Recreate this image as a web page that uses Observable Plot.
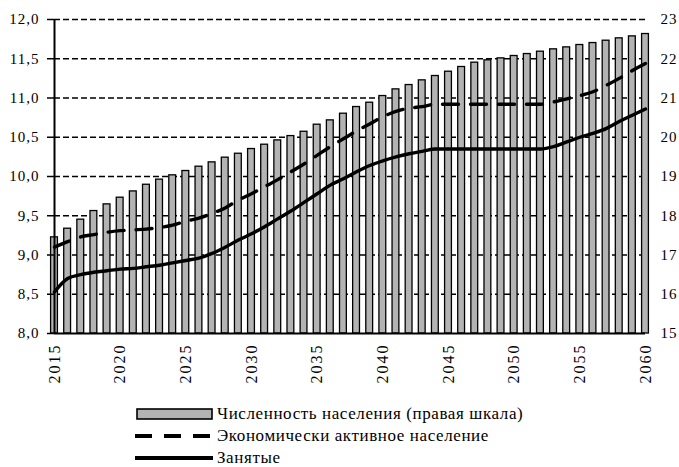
<!DOCTYPE html>
<html>
<head>
<meta charset="utf-8">
<script src="https://cdn.jsdelivr.net/npm/d3@7"></script>
<script src="https://cdn.jsdelivr.net/npm/@observablehq/plot@0.6"></script>
</head>
<body style="margin:0;background:white">
<div id="chart"></div>
<div id="legend" style="font-family:'Liberation Serif';font-size:17px;letter-spacing:0.6px;padding-top:8px"></div>
<script>
const years = d3.range(2015, 2061);
const population = [17.45, 17.67, 17.90, 18.12, 18.29, 18.46, 18.62, 18.79, 18.92, 19.03,
  19.14, 19.25, 19.36, 19.48, 19.58, 19.70, 19.81, 19.92, 20.03, 20.14,
  20.32, 20.43, 20.60, 20.77, 20.88, 21.05, 21.22, 21.33, 21.45, 21.56,
  21.67, 21.79, 21.90, 21.96, 22.01, 22.07, 22.12, 22.18, 22.24, 22.29,
  22.35, 22.40, 22.46, 22.52, 22.57, 22.63];
const active = [9.10, 9.17, 9.23, 9.26, 9.29, 9.31, 9.32, 9.33, 9.35, 9.38,
  9.43, 9.47, 9.53, 9.60, 9.70, 9.78, 9.87, 9.96, 10.06, 10.16,
  10.27, 10.38, 10.48, 10.58, 10.67, 10.76, 10.83, 10.87, 10.89, 10.92,
  10.92, 10.92, 10.92, 10.92, 10.92, 10.92, 10.92, 10.92, 10.95, 10.99,
  11.03, 11.08, 11.16, 11.25, 11.35, 11.44];
const employed = [8.53, 8.70, 8.75, 8.78, 8.80, 8.82, 8.83, 8.85, 8.87, 8.90,
  8.93, 8.96, 9.02, 9.10, 9.19, 9.27, 9.36, 9.46, 9.56, 9.67,
  9.78, 9.89, 9.97, 10.06, 10.14, 10.20, 10.25, 10.29, 10.32, 10.35,
  10.35, 10.35, 10.35, 10.35, 10.35, 10.35, 10.35, 10.35, 10.38, 10.44,
  10.50, 10.55, 10.61, 10.70, 10.78, 10.86];
const leftTicks = [8.0, 8.5, 9.0, 9.5, 10.0, 10.5, 11.0, 11.5, 12.0];
const gridTicks = [8.5, 9.0, 9.5, 10.0, 10.5, 11.0, 11.5, 12.0];
const rightTickLabels = ["15", "16", "17", "18", "19", "20", "21", "22", "23"];
const xTicks = [2015, 2020, 2025, 2030, 2035, 2040, 2045, 2050, 2055, 2060];
const labels = ["Численность населения (правая шкала)", "Экономически активное население", "Занятые"];

// right scale 15..23 mapped onto left scale 8..12
const toLeft = v => 8 + (v - 15) / 2;

const data = years.map((year, i) => ({year, pop: population[i], active: active[i], employed: employed[i]}));

const chart = Plot.plot({
  width: 679,
  height: 395,
  marginLeft: 54,
  marginRight: 34,
  marginTop: 19,
  marginBottom: 62,
  style: {fontFamily: "Liberation Serif", fontSize: "15px", background: "white", color: "black", overflow: "visible"},
  x: {domain: [2015, 2060]},
  y: {domain: [8, 12]},
  marks: [
    Plot.ruleY(gridTicks, {x1: 2015, x2: 2060, stroke: "black", strokeWidth: 1.4, strokeDasharray: "6,3"}),
    Plot.rectY(data, {x1: d => d.year - 0.26, x2: d => d.year + 0.26, y1: 8, y2: d => toLeft(d.pop),
      fill: "#b3b3b3", stroke: "black", strokeWidth: 1.3}),
    Plot.line(data, {x: "year", y: "active", stroke: "black", strokeWidth: 3.4, strokeDasharray: "16,12", curve: "monotone-x"}),
    Plot.line(data, {x: "year", y: "employed", stroke: "black", strokeWidth: 3.4, curve: "monotone-x"}),
    Plot.ruleX([2015], {y1: 8, y2: 12, stroke: "black", strokeWidth: 2}),
    Plot.ruleY([8], {x1: 2015, x2: 2060, stroke: "black", strokeWidth: 2}),
    Plot.axisY({anchor: "left", ticks: leftTicks, tickFormat: d => d.toFixed(1).replace(".", ","),
      tickSize: 7, tickPadding: 8, strokeWidth: 1.5, strokeOpacity: 1, label: null}),
    Plot.axisY({anchor: "right", ticks: leftTicks, tickFormat: (d, i) => rightTickLabels[i],
      tickSize: 0, tickPadding: 15, label: null}),
    Plot.axisX({ticks: xTicks, tickFormat: d => String(d), tickRotate: -90, tickSize: 0, tickPadding: 10, label: null})
  ]
});
chart.querySelectorAll("text").forEach(t => {
  t.setAttribute("font-family", "Liberation Serif");
  t.style.fontFamily = "'Liberation Serif'";
  t.style.letterSpacing = "1px";
});
chart.querySelectorAll('[aria-label="x-axis tick label"] text').forEach(t => {
  t.style.letterSpacing = "2px";
  t.style.fontSize = "16px";
});
document.getElementById("chart").appendChild(chart);

const swatches = [
  `<svg width="80" height="22" style="flex:none"><rect x="2" y="6" width="75" height="10" fill="#b3b3b3" stroke="black" stroke-width="1.6"/></svg>`,
  `<svg width="80" height="22" style="flex:none"><line x1="0" x2="78" y1="11" y2="11" stroke="black" stroke-width="4" stroke-dasharray="17,12"/></svg>`,
  `<svg width="80" height="22" style="flex:none"><line x1="0" x2="78" y1="11" y2="11" stroke="black" stroke-width="4"/></svg>`
];
const legend = document.getElementById("legend");
labels.forEach((t, i) => {
  const row = document.createElement("div");
  row.setAttribute("style", "display:flex;align-items:center;height:22px;padding-left:135px");
  row.innerHTML = swatches[i] + `<span style="margin-left:2px;white-space:nowrap;font-family:'Liberation Serif'">${t}</span>`;
  legend.appendChild(row);
});
</script>
</body>
</html>
